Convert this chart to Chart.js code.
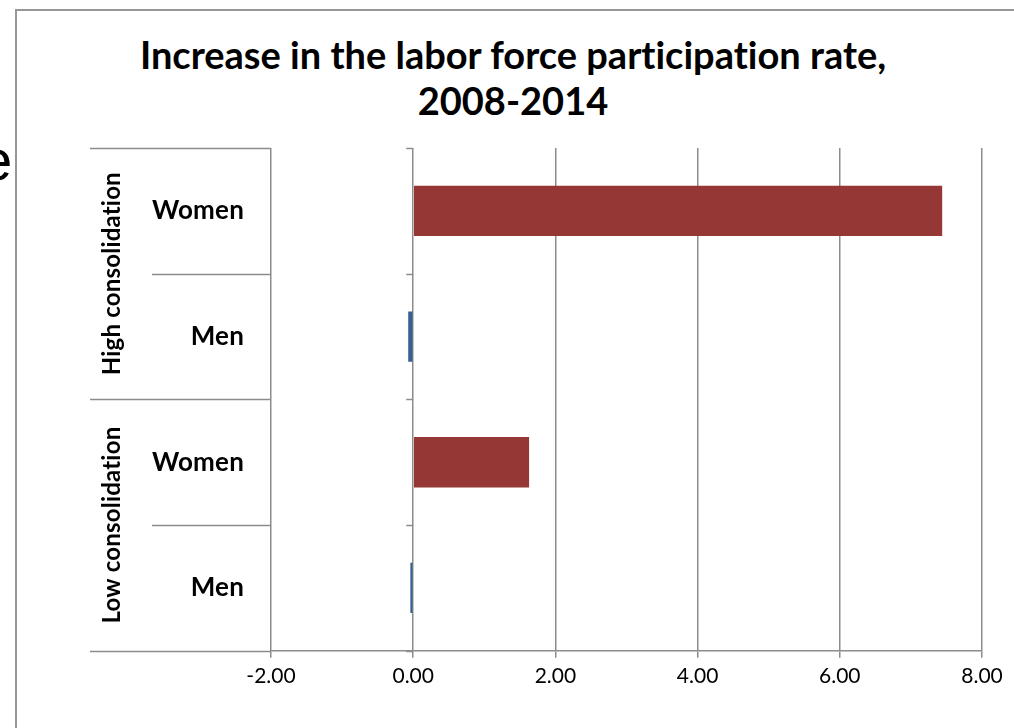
<!DOCTYPE html>
<html>
<head>
<meta charset="utf-8">
<title>Labor force participation</title>
<script src="https://cdn.jsdelivr.net/npm/chart.js@4.4.1/dist/chart.umd.min.js"></script>
<style>
  html, body { margin: 0; padding: 0; background: #fff; overflow: hidden; }
  #wrap { position: relative; width: 1014px; height: 728px; }
  #frame {
    position: absolute; left: 15px; top: 9px; right: 0; bottom: 0;
    border-left: 2px solid #979797; border-top: 2px solid #979797;
  }
  #stray {
    position: absolute; left: -20px; top: 126px; line-height: 1.15;
    font: 58px "Liberation Sans", sans-serif; color: #000;
  }
  #title {
    position: absolute; left: 0; width: 1026px; top: 31px;
    text-align: center; font: bold 38px Lato, sans-serif; line-height: 46px; color: #000;
    font-variant-ligatures: none; font-feature-settings: "liga" 0;
  }
  #canvasBox { position: absolute; left: 0; top: 0; width: 1014px; height: 728px; }
</style>
</head>
<body>
<div id="wrap">
  <div id="stray">e</div>
  <div id="frame"></div>
  <div id="title">Increase in the labor force participation rate,<br>2008-2014</div>
  <div id="canvasBox"><canvas id="chart"></canvas></div>
</div>
<script>
// categories, top to bottom
const categories = ["Women", "Men", "Women", "Men"];
// outer grouping: each group covers two categories
const groups = ["High consolidation", "Low consolidation"];
const groupSize = 2;

const womenValues = [7.44, null, 1.63, null];
const menValues = [null, -0.07, null, -0.04];

const xMin = -2;
const xMax = 8;
const xStep = 2;

const LINE = "#8c8c8c";

// draws the two-level category labels and their separator lines left of the plot
const categoryAxisPlugin = {
    id: "categoryAxis",
    afterDraw(chart) {
        const { ctx, chartArea } = chart;
        const y = chart.scales.y;
        const x = chart.scales.x;
        const band = y.getPixelForValue(1) - y.getPixelForValue(0);
        const outerLeft = 90;
        const innerLeft = 152;
        const zeroX = x.getPixelForValue(0);

        ctx.save();
        ctx.strokeStyle = LINE;
        ctx.lineWidth = 1.5;

        for (let i = 0; i <= categories.length; i++) {
            const by = Math.round(y.getPixelForValue(i) - band / 2) + 0.5;
            const left = (i % groupSize === 0) ? outerLeft : innerLeft;
            ctx.beginPath();
            ctx.moveTo(left, by);
            ctx.lineTo(chartArea.left, by);
            ctx.stroke();
            // tick marks on the zero axis
            ctx.beginPath();
            ctx.moveTo(zeroX - 7, by);
            ctx.lineTo(zeroX, by);
            ctx.stroke();
        }

        ctx.fillStyle = "#000";
        ctx.font = "bold 26px Lato, sans-serif";
        if ("letterSpacing" in ctx) ctx.letterSpacing = "0.2px"; // keeps "ti" from joining
        ctx.textAlign = "right";
        ctx.textBaseline = "middle";
        categories.forEach((c, i) => {
            ctx.fillText(c, 244, y.getPixelForValue(i));
        });

        ctx.font = "bold 24px Lato, sans-serif";
        groups.forEach((g, gi) => {
            const first = y.getPixelForValue(gi * groupSize);
            const last = y.getPixelForValue(gi * groupSize + groupSize - 1);
            ctx.save();
            ctx.translate(112, (first + last) / 2);
            ctx.rotate(-Math.PI / 2);
            ctx.textAlign = "center";
            ctx.fillText(g, 0, 0);
            ctx.restore();
        });
        ctx.restore();
    }
};

const chart = new Chart(document.getElementById("chart"), {
    type: "bar",
    data: {
        labels: categories,
        datasets: [
            {
                label: "Women",
                data: womenValues,
                backgroundColor: "#953735",
                barPercentage: 0.4,
                categoryPercentage: 1.0,
            },
            {
                label: "Men",
                data: menValues,
                backgroundColor: "#376092",
                barPercentage: 0.4,
                categoryPercentage: 1.0,
            }
        ]
    },
    options: {
        indexAxis: "y",
        responsive: true,
        maintainAspectRatio: false,
        animation: false,
        layout: { padding: { left: 271, top: 148, right: 32, bottom: 33 } },
        plugins: {
            legend: { display: false },
            tooltip: { enabled: false },
            title: { display: false }
        },
        scales: {
            x: {
                min: xMin,
                max: xMax,
                ticks: {
                    stepSize: xStep,
                    color: "#000",
                    padding: 6,
                    font: { family: "Lato, sans-serif", size: 21 },
                    callback: v => v.toFixed(2)
                },
                grid: { color: LINE, lineWidth: 1.5, tickLength: 7, drawTicks: true },
                border: { display: true, color: LINE, width: 1.5 }
            },
            y: {
                display: false,
                stacked: true
            }
        }
    },
    plugins: [categoryAxisPlugin]
});
</script>
</body>
</html>
